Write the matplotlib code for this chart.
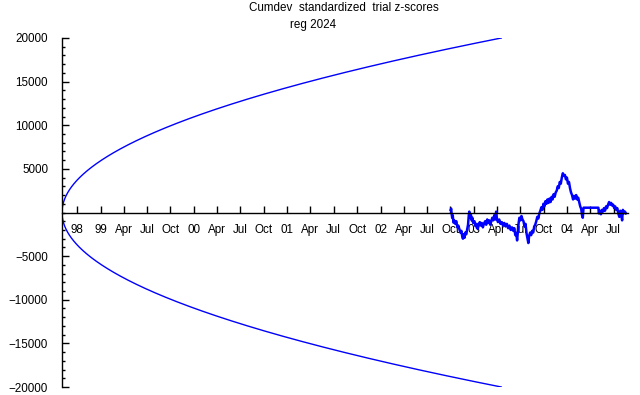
"""
Cumulative deviation of standardized trial z-scores with probability envelope
"""

from matplotlib import pyplot as plt
import numpy as np
import pandas as pd


TITLE = "Cumdev  standardized  trial z-scores"
SUBTITLE = "reg 2024"

# envelope: reaches +/- ENV_MAX at ENV_END
ENV_START = "1998-08-03"
ENV_END = "2003-04-18"
ENV_MAX = 20000

X_END = "2004-08-26"

Y_TICKS = [-20000, -15000, -10000, -5000, 5000, 10000, 15000, 20000]

TICK_LABELS = ["98", "99", "Apr", "Jul", "Oct", "00", "Apr", "Jul", "Oct",
               "01", "Apr", "Jul", "Oct", "02", "Apr", "Jul", "Oct", "03",
               "Apr", "Jul", "Oct", "04", "Apr", "Jul"]
FIRST_TICK = "1998-10-01"

trace_dates = [
    "2002-10-02", "2002-10-04", "2002-10-06", "2002-10-08", "2002-10-10",
    "2002-10-13", "2002-10-16", "2002-10-20", "2002-10-24", "2002-10-28",
    "2002-11-01", "2002-11-05", "2002-11-09", "2002-11-13", "2002-11-16",
    "2002-11-19", "2002-11-22", "2002-11-25", "2002-11-28", "2002-12-02",
    "2002-12-06", "2002-12-09", "2002-12-12", "2002-12-14", "2002-12-17",
    "2002-12-20", "2002-12-23", "2002-12-26", "2002-12-29", "2003-01-03",
    "2003-01-08", "2003-01-12", "2003-01-16", "2003-01-20", "2003-01-24",
    "2003-01-28", "2003-02-01", "2003-02-05", "2003-02-09", "2003-02-14",
    "2003-02-18", "2003-02-22", "2003-02-26", "2003-03-02", "2003-03-06",
    "2003-03-10", "2003-03-14", "2003-03-18", "2003-03-22", "2003-03-26",
    "2003-03-29", "2003-04-01", "2003-04-05", "2003-04-10", "2003-04-15",
    "2003-04-20", "2003-04-25", "2003-04-30", "2003-05-05", "2003-05-10",
    "2003-05-15", "2003-05-20", "2003-05-25", "2003-05-30", "2003-06-04",
    "2003-06-08", "2003-06-12", "2003-06-16", "2003-06-19", "2003-06-22",
    "2003-06-25", "2003-06-28", "2003-07-02", "2003-07-06", "2003-07-10",
    "2003-07-14", "2003-07-18", "2003-07-22", "2003-07-26", "2003-07-30",
    "2003-08-02", "2003-08-05", "2003-08-09", "2003-08-13", "2003-08-17",
    "2003-08-21", "2003-08-25", "2003-08-29", "2003-09-02", "2003-09-06",
    "2003-09-10", "2003-09-14", "2003-09-18", "2003-09-22", "2003-09-26",
    "2003-09-30", "2003-10-04", "2003-10-08", "2003-10-12", "2003-10-16",
    "2003-10-20", "2003-10-24", "2003-10-28", "2003-11-01", "2003-11-05",
    "2003-11-09", "2003-11-13", "2003-11-17", "2003-11-21", "2003-11-25",
    "2003-11-29", "2003-12-03", "2003-12-07", "2003-12-11", "2003-12-15",
    "2003-12-19", "2003-12-23", "2003-12-27", "2003-12-31", "2004-01-04",
    "2004-01-08", "2004-01-12", "2004-01-16", "2004-01-20", "2004-01-24",
    "2004-01-28", "2004-02-01", "2004-02-05", "2004-02-09", "2004-02-13",
    "2004-02-17", "2004-02-21", "2004-02-25", "2004-02-28", "2004-03-02",
    "2004-03-05", "2004-05-02", "2004-05-04", "2004-05-08", "2004-05-12",
    "2004-05-16", "2004-05-20", "2004-05-24", "2004-05-28", "2004-06-01",
    "2004-06-05", "2004-06-09", "2004-06-13", "2004-06-17", "2004-06-21",
    "2004-06-25", "2004-06-29", "2004-07-03", "2004-07-07", "2004-07-11",
    "2004-07-15", "2004-07-19", "2004-07-23", "2004-07-27", "2004-07-31",
    "2004-08-03", "2004-08-06", "2004-08-10", "2004-08-14", "2004-08-18",
]
trace_values = [
    300, 450, -200, -600, -300,
    -1150, -900, -1300, -1000, -1700,
    -1500, -1900, -2300, -2100, -2700,
    -3000, -2500, -2900, -2300, -2500,
    -1900, -1400, -300, 100, -600,
    -200, -900, -600, -1200, -1000,
    -1600, -1300, -1900, -1400, -1100,
    -1500, -1200, -1700, -1300, -1000,
    -1400, -800, -1200, -900, -1400,
    -1000, -600, -900, -300, -800,
    100, -700, -1100, -800, -1300,
    -1100, -1500, -1200, -1600, -1300,
    -1800, -1500, -2000, -1700, -2100,
    -1800, -2600, -2400, -3200, -2200,
    -1200, -600, -900, -400, -800,
    -1000, -1600, -1300, -2400, -3000,
    -3500, -2700, -2300, -2600, -2100,
    -2300, -1600, -1400, -1000, -500,
    -700, -100, 200, 600, 300,
    1000, 700, 1300, 1000, 1500,
    1100, 1600, 1200, 1800, 1500,
    2100, 1800, 2300, 2500, 3000,
    2800, 3500, 3300, 4000, 4500,
    4200, 4300, 3800, 4000, 3300,
    3500, 2800, 2300, 2000, 1500,
    1900, 1600, 2000, 1500, 1700,
    1200, 700, 400, -300, -600,
    550, 550, -100, 200, -200,
    300, 100, 500, 200, 700,
    500, 900, 1200, 900, 1100,
    800, 900, 500, 700, 300,
    500, -100, -500, 200, -300,
    -900, 300, -100, 100, -100,
]

BLUE = "#0000ff"

plt.rcParams["font.family"] = ["Liberation Sans", "DejaVu Sans"]
plt.rcParams["font.size"] = 8.4

fig = plt.figure(figsize=(6.4, 3.95), dpi=100)
ax = fig.add_axes([62 / 640, 1 - 387 / 395, 566 / 640, 349 / 395])

# probability envelope
t0 = pd.Timestamp(ENV_START)
t1 = pd.Timestamp(ENV_END)
env_t = pd.date_range(t0, t1, freq="D")
frac = (env_t - t0) / (t1 - t0)
env = ENV_MAX * np.sqrt(np.asarray(frac, dtype=float))
ax.plot(env_t, env, color=BLUE, lw=1)
ax.plot(env_t, -env, color=BLUE, lw=1)

# cumulative deviation
ax.plot(pd.to_datetime(trace_dates), trace_values, color=BLUE, lw=1.8)

ax.set_xlim(t0, pd.Timestamp(X_END))
ax.set_ylim(-20000, 20000)

ax.spines["top"].set_visible(False)
ax.spines["right"].set_visible(False)
ax.spines["bottom"].set_position(("data", 0))
for sp in ("left", "bottom"):
    ax.spines[sp].set_linewidth(1)
    ax.spines[sp].set_color("black")

ticks = pd.date_range(FIRST_TICK, periods=len(TICK_LABELS), freq="QS")
ax.set_xticks(ticks)
ax.set_xticklabels(TICK_LABELS)
ax.tick_params(axis="x", direction="in", length=5, width=1, pad=8)

ax.set_yticks(Y_TICKS)
ax.set_yticklabels([("%d" % v).replace("-", "\u2212") for v in Y_TICKS])
ax.set_yticks(np.arange(-20000, 20001, 1000), minor=True)
ax.tick_params(axis="y", which="major", direction="in", length=5, width=1,
               pad=10)
ax.tick_params(axis="y", which="minor", direction="in", length=2.5,
               width=1)

fig.text(344 / 640, 1 - 8 / 395, TITLE, ha="center", va="center")
fig.text(313 / 640, 1 - 25 / 395, SUBTITLE, ha="center", va="center")

fig.savefig("out.png", dpi=100)
